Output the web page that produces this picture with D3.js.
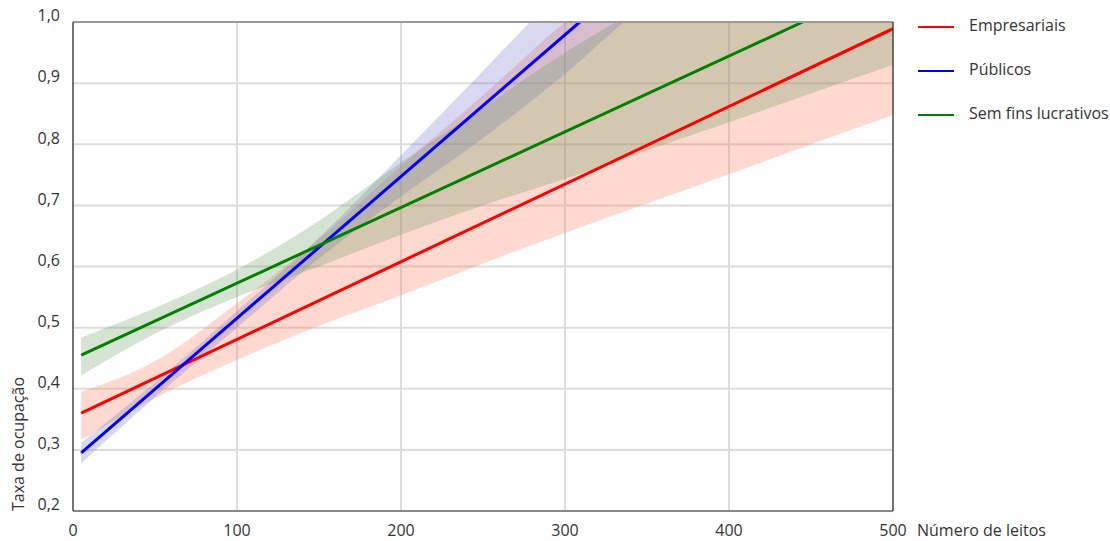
<!DOCTYPE html>
<html><head><meta charset="utf-8">
<script src="https://cdn.jsdelivr.net/npm/d3@7"></script>
<style>body{margin:0;background:#fff;} text{font-family:"Open Sans",sans-serif;fill:#333;}</style>
</head><body>
<svg id="c" width="1110" height="541"></svg>
<script>
const xTicks = [0, 100, 200, 300, 400, 500];
const yTicks = [0.2, 0.3, 0.4, 0.5, 0.6, 0.7, 0.8, 0.9, 1.0];
const seriesNames = ["Empresariais", "Públicos", "Sem fins lucrativos"];
const seriesColors = ["#ff0000", "#0000ff", "#008000"];
const bandColors = ["rgba(250,130,100,0.30)", "rgba(110,110,200,0.27)", "rgba(100,150,90,0.27)"];
// fitted lines: [x, y] end points
const lineEmpresariais = [[5, 0.360], [500, 0.989]];
const linePublicos = [[5, 0.295], [309, 1.0]];
const lineSemFins = [[5, 0.455], [445, 1.0]];
// confidence bands
const bandX = [5, 50, 100, 150, 200, 250, 300, 350, 400, 450, 500];
const upperEmpresariais = [0.395, 0.445, 0.54, 0.645, 0.765, 0.88, 1.0, 1.1, 1.2, 1.3, 1.4];
const lowerEmpresariais = [0.316, 0.385, 0.447, 0.503, 0.553, 0.605, 0.655, 0.703, 0.751, 0.80, 0.848];
const upperPublicos = [0.312, 0.41, 0.527, 0.647, 0.782, 0.92, 1.06, 1.2, 1.34, 1.48, 1.62];
const lowerPublicos = [0.278, 0.386, 0.50, 0.613, 0.715, 0.81, 0.915, 1.03, 1.1, 1.2, 1.3];
const upperSemFins = [0.484, 0.532, 0.595, 0.675, 0.77, 0.86, 0.95, 1.03, 1.12, 1.2, 1.28];
const lowerSemFins = [0.422, 0.49, 0.55, 0.60, 0.652, 0.70, 0.743, 0.79, 0.836, 0.883, 0.930];

const svg = d3.select("#c");
const L = 73, R = 893, T = 22, B = 511;
const x = d3.scaleLinear().domain([0, 500]).range([L, R]);
const y = d3.scaleLinear().domain([0.2, 1.0]).range([B, T]);

svg.append("defs").append("clipPath").attr("id", "clip")
  .append("rect").attr("x", L).attr("y", T).attr("width", R - L).attr("height", B - T);

// grid
const grid = svg.append("g");
grid.selectAll(".gx").data(xTicks.slice(1, -1)).join("line")
  .attr("x1", d => x(d)).attr("x2", d => x(d)).attr("y1", T).attr("y2", B)
  .attr("stroke", "#dcdcdc").attr("stroke-width", 2);
grid.selectAll(".gy").data(yTicks.slice(1, -1)).join("line")
  .attr("y1", d => y(d)).attr("y2", d => y(d)).attr("x1", L).attr("x2", R)
  .attr("stroke", "#dcdcdc").attr("stroke-width", 2);

const plot = svg.append("g").attr("clip-path", "url(#clip)");
const bands = [
  [upperEmpresariais, lowerEmpresariais],
  [upperPublicos, lowerPublicos],
  [upperSemFins, lowerSemFins]
];
const area = d3.area().curve(d3.curveMonotoneX).x(d => x(d.x)).y0(d => y(d.lo)).y1(d => y(d.hi));
bands.forEach((b, i) => {
  const data = bandX.map((xx, j) => ({x: xx, hi: b[0][j], lo: b[1][j]}));
  plot.append("path").datum(data).attr("d", area).attr("fill", bandColors[i]);
});

const lines = [lineEmpresariais, linePublicos, lineSemFins];
const lineGen = d3.line().x(d => x(d[0])).y(d => y(d[1]));
lines.forEach((l, i) => {
  plot.append("path").datum(l).attr("d", lineGen).attr("fill", "none")
    .attr("stroke", seriesColors[i]).attr("stroke-width", 3);
});

// frame
svg.append("line").attr("x1", L).attr("x2", R).attr("y1", T).attr("y2", T).attr("stroke", "#999").attr("stroke-width", 2);
svg.append("line").attr("x1", L).attr("x2", R).attr("y1", B).attr("y2", B).attr("stroke", "#888").attr("stroke-width", 2);
svg.append("line").attr("x1", L).attr("x2", L).attr("y1", T).attr("y2", B).attr("stroke", "#444").attr("stroke-width", 1.5);
svg.append("line").attr("x1", R).attr("x2", R).attr("y1", T).attr("y2", B).attr("stroke", "#444").attr("stroke-width", 1.5);

// tick labels
const fmt = d => d3.format(".1f")(d).replace(".", ",");
svg.selectAll(".yl").data(yTicks).join("text")
  .attr("x", 60).attr("y", d => y(d) - 5).attr("text-anchor", "end")
  .attr("dominant-baseline", "middle").attr("font-size", 16).text(fmt);
svg.selectAll(".xl").data(xTicks).join("text")
  .attr("x", d => x(d)).attr("y", 532).attr("text-anchor", "middle")
  .attr("dominant-baseline", "middle").attr("font-size", 16).text(d => d);

svg.append("text").attr("x", 917).attr("y", 532).attr("dominant-baseline", "middle")
  .attr("font-size", 16).text("Número de leitos");
svg.append("text").attr("transform", "translate(24,511) rotate(-90)")
  .attr("font-size", 16).text("Taxa de ocupação");

// legend
const lg = svg.append("g");
seriesNames.forEach((n, i) => {
  const yy = 27 + i * 44;
  lg.append("line").attr("x1", 918).attr("x2", 954).attr("y1", yy).attr("y2", yy)
    .attr("stroke", seriesColors[i]).attr("stroke-width", 2);
  lg.append("text").attr("x", 969).attr("y", yy).attr("dominant-baseline", "middle")
    .attr("font-size", 16).text(n);
});
</script>
</body></html>
